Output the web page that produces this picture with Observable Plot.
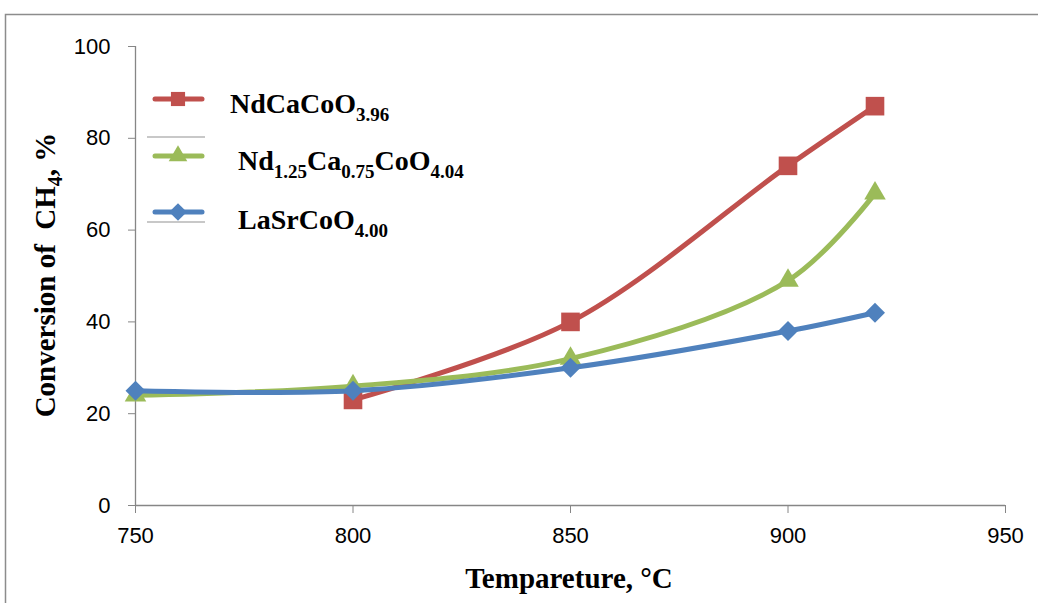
<!DOCTYPE html>
<html><head><meta charset="utf-8">
<script src="https://cdn.jsdelivr.net/npm/d3@7"></script>
<script src="https://cdn.jsdelivr.net/npm/@observablehq/plot@0.6"></script>
<style>body{margin:0;background:#fff}</style>
</head><body><div id="chart"></div>
<script>
const temperatures = [750, 800, 850, 900, 920];
const ndCaCoO = [null, 23, 40, 74, 87];
const nd125 = [24, 26, 32, 49, 68];
const laSr = [25, 25, 30, 38, 42];
const seriesNames = ["NdCaCoO3.96", "Nd1.25Ca0.75CoO4.04", "LaSrCoO4.00"];
const seriesColors = ["#C0504D", "#9BBB59", "#4F81BD"];
const seriesSymbols = ["square", "triangle", "diamond2"];
const xTicks = [750, 800, 850, 900, 950];
const yTicks = [0, 20, 40, 60, 80, 100];

const seriesValues = [ndCaCoO, nd125, laSr];
const rows = [];
seriesValues.forEach((vals, i) => vals.forEach((v, j) => {
  if (v != null) rows.push({s: seriesNames[i], t: temperatures[j], v});
}));
const dotR = {"square": 10.5, "triangle": 8, "diamond2": 9};

const marks = [
  Plot.ruleY([0], {stroke: "#868686", strokeWidth: 1.3}),
  Plot.ruleX([750], {stroke: "#868686", strokeWidth: 1.3}),
  Plot.axisX({ticks: xTicks, tickSize: 8, tickPadding: 14, label: null, stroke: "#868686", fill: "#000"}),
  Plot.axisY({ticks: yTicks, tickSize: 7, tickPadding: 18, label: null, stroke: "#868686", fill: "#000"})
];
seriesNames.forEach((name, i) => {
  const d = rows.filter(r => r.s === name);
  marks.push(Plot.line(d, {x: "t", y: "v", stroke: seriesColors[i], strokeWidth: 5, curve: "catmull-rom"}));
  marks.push(Plot.dot(d, {x: "t", y: "v", fill: seriesColors[i], symbol: () => seriesSymbols[i], r: dotR[seriesSymbols[i]]}));
});

const chart = Plot.plot({
  width: 1038, height: 603,
  marginLeft: 135, marginRight: 33, marginTop: 46, marginBottom: 98,
  x: {domain: [750, 950]},
  y: {domain: [0, 100]},
  symbol: {domain: seriesSymbols, range: seriesSymbols},
  style: {fontFamily: "'Liberation Sans Narrow', 'Liberation Sans', sans-serif", fontSize: "22px", color: "#000", background: "#fff"},
  marks
});
document.getElementById("chart").appendChild(chart);

const svg = d3.select(chart);
// outer frame
svg.insert("rect", ":first-child").attr("x", 5.5).attr("y", 14.5).attr("width", 1100).attr("height", 700)
  .attr("fill", "none").attr("stroke", "#8c8c8c").attr("stroke-width", 1.5);

const serif = "'Liberation Serif', 'Times New Roman', serif";
// axis titles
svg.append("text").attr("x", 569).attr("y", 588).attr("text-anchor", "middle")
  .attr("font-family", serif).attr("font-weight", "bold").attr("font-size", 29).attr("fill", "#000")
  .text("Tempareture, °C");
const yt = svg.append("text").attr("transform", "translate(55,275) rotate(-90)").attr("text-anchor", "middle")
  .attr("font-family", serif).attr("font-weight", "bold").attr("font-size", 29).attr("fill", "#000");
yt.append("tspan").text("Conversion of  CH");
yt.append("tspan").attr("font-size", 20).attr("dy", 7).text("4");
yt.append("tspan").attr("dy", -7).text(", %");

// legend
const legendParts = [
  [["NdCaCoO", false], ["3.96", true]],
  [["Nd", false], ["1.25", true], ["Ca", false], ["0.75", true], ["CoO", false], ["4.04", true]],
  [["LaSrCoO", false], ["4.00", true]]
];
const legY = [99, 156, 212];
const legTextX = [230, 238, 238];
const legBase = [113, 170, 229];
[137, 222].forEach(y => svg.append("line").attr("x1", 147).attr("x2", 205).attr("y1", y).attr("y2", y)
  .attr("stroke", "#c8c8c8").attr("stroke-width", 2));
seriesNames.forEach((name, i) => {
  svg.append("line").attr("x1", 155).attr("x2", 202).attr("y1", legY[i]).attr("y2", legY[i])
    .attr("stroke", seriesColors[i]).attr("stroke-width", 5).attr("stroke-linecap", "round");
  const sym = d3.symbol(i === 0 ? d3.symbolSquare : i === 1 ? d3.symbolTriangle : d3.symbolDiamond2, i === 0 ? 200 : i === 1 ? 150 : 200);
  svg.append("path").attr("d", sym()).attr("transform", `translate(178,${legY[i]})`).attr("fill", seriesColors[i]);
  const t = svg.append("text").attr("x", legTextX[i]).attr("y", legBase[i]).attr("text-anchor", "start")
    .attr("font-family", serif).attr("font-weight", "bold").attr("font-size", 28).attr("fill", "#000");
  let sub = false;
  legendParts[i].forEach(([txt, isSub]) => {
    const ts = t.append("tspan").text(txt);
    if (isSub && !sub) { ts.attr("font-size", 19).attr("dy", 8); sub = true; }
    else if (!isSub && sub) { ts.attr("dy", -8); sub = false; }
    else if (isSub) ts.attr("font-size", 19);
  });
});
</script></body></html>
